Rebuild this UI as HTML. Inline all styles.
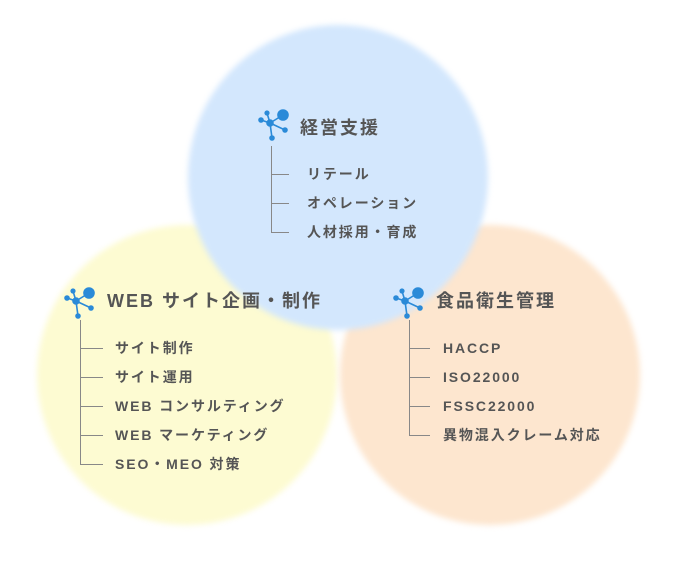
<!DOCTYPE html>
<html><head><meta charset="utf-8"><style>
body{margin:0;width:676px;height:561px;background:#fff;position:relative;overflow:hidden;font-family:"Liberation Sans","Noto Sans CJK JP",sans-serif;color:#555}
.c{position:absolute;border-radius:50%;filter:blur(3px)}
.t{position:absolute;white-space:nowrap;line-height:1}
.h{font-size:18px;font-weight:bold;color:#555;letter-spacing:2px}
.i{font-size:14px;font-weight:bold;color:#555;letter-spacing:1.9px}
.l{position:absolute;background:#888}
svg.ic{position:absolute}
</style></head><body>
<div class="c" style="left:37px;top:225px;width:300px;height:300px;background:#fdfbd2"></div>
<div class="c" style="left:340px;top:225px;width:300px;height:300px;background:#fde6cf"></div>
<div class="c" style="left:188px;top:25px;width:300px;height:305px;background:#d3e7fd"></div>

<svg class="ic" style="left:258px;top:108px" width="36" height="34" viewBox="0 0 36 34"><g stroke="#2a8ad8" stroke-width="1.6" fill="#2a8ad8"><line x1="12" y1="15" x2="3" y2="12"/><line x1="12" y1="15" x2="25" y2="7"/><line x1="12" y1="15" x2="27" y2="22"/><line x1="12" y1="15" x2="14" y2="30"/><line x1="12" y1="15" x2="9" y2="5"/><circle cx="12" cy="15" r="3"/><circle cx="3" cy="12" r="2"/><circle cx="25" cy="7" r="5"/><circle cx="27" cy="22" r="2"/><circle cx="14" cy="30" r="2"/><circle cx="9" cy="5" r="1.8"/></g></svg>
<div class="t h" style="left:300px;top:119px">経営支援</div>
<div class="l" style="left:271px;top:146px;width:1px;height:87px"></div>
<div class="l" style="left:271px;top:174px;width:18px;height:1px"></div>
<div class="l" style="left:271px;top:203px;width:18px;height:1px"></div>
<div class="l" style="left:271px;top:232px;width:18px;height:1px"></div>
<div class="t i" style="left:307px;top:167px">リテール</div>
<div class="t i" style="left:307px;top:196px">オペレーション</div>
<div class="t i" style="left:307px;top:225px">人材採用・育成</div>

<svg class="ic" style="left:64px;top:286px" width="36" height="34" viewBox="0 0 36 34"><g stroke="#2a8ad8" stroke-width="1.6" fill="#2a8ad8"><line x1="12" y1="15" x2="3" y2="12"/><line x1="12" y1="15" x2="25" y2="7"/><line x1="12" y1="15" x2="27" y2="22"/><line x1="12" y1="15" x2="14" y2="30"/><line x1="12" y1="15" x2="9" y2="5"/><circle cx="12" cy="15" r="3"/><circle cx="3" cy="12" r="2"/><circle cx="25" cy="7" r="5"/><circle cx="27" cy="22" r="2"/><circle cx="14" cy="30" r="2"/><circle cx="9" cy="5" r="1.8"/></g></svg>
<div class="t h" style="left:107px;top:292px">WEB サイト企画・制作</div>
<div class="l" style="left:80px;top:320px;width:1px;height:144px"></div>
<div class="l" style="left:80px;top:348px;width:23px;height:1px"></div>
<div class="l" style="left:80px;top:377px;width:23px;height:1px"></div>
<div class="l" style="left:80px;top:406px;width:23px;height:1px"></div>
<div class="l" style="left:80px;top:435px;width:23px;height:1px"></div>
<div class="l" style="left:80px;top:464px;width:23px;height:1px"></div>
<div class="t i" style="left:115px;top:341px">サイト制作</div>
<div class="t i" style="left:115px;top:370px">サイト運用</div>
<div class="t i" style="left:115px;top:399px">WEB コンサルティング</div>
<div class="t i" style="left:115px;top:428px">WEB マーケティング</div>
<div class="t i" style="left:115px;top:457px">SEO・MEO 対策</div>

<svg class="ic" style="left:393px;top:286px" width="36" height="34" viewBox="0 0 36 34"><g stroke="#2a8ad8" stroke-width="1.6" fill="#2a8ad8"><line x1="12" y1="15" x2="3" y2="12"/><line x1="12" y1="15" x2="25" y2="7"/><line x1="12" y1="15" x2="27" y2="22"/><line x1="12" y1="15" x2="14" y2="30"/><line x1="12" y1="15" x2="9" y2="5"/><circle cx="12" cy="15" r="3"/><circle cx="3" cy="12" r="2"/><circle cx="25" cy="7" r="5"/><circle cx="27" cy="22" r="2"/><circle cx="14" cy="30" r="2"/><circle cx="9" cy="5" r="1.8"/></g></svg>
<div class="t h" style="left:436px;top:292px">食品衛生管理</div>
<div class="l" style="left:409px;top:320px;width:1px;height:115px"></div>
<div class="l" style="left:409px;top:348px;width:21px;height:1px"></div>
<div class="l" style="left:409px;top:377px;width:21px;height:1px"></div>
<div class="l" style="left:409px;top:406px;width:21px;height:1px"></div>
<div class="l" style="left:409px;top:435px;width:21px;height:1px"></div>
<div class="t i" style="left:443px;top:341px">HACCP</div>
<div class="t i" style="left:443px;top:370px">ISO22000</div>
<div class="t i" style="left:443px;top:399px">FSSC22000</div>
<div class="t i" style="left:443px;top:428px">異物混入クレーム対応</div>
</body></html>
